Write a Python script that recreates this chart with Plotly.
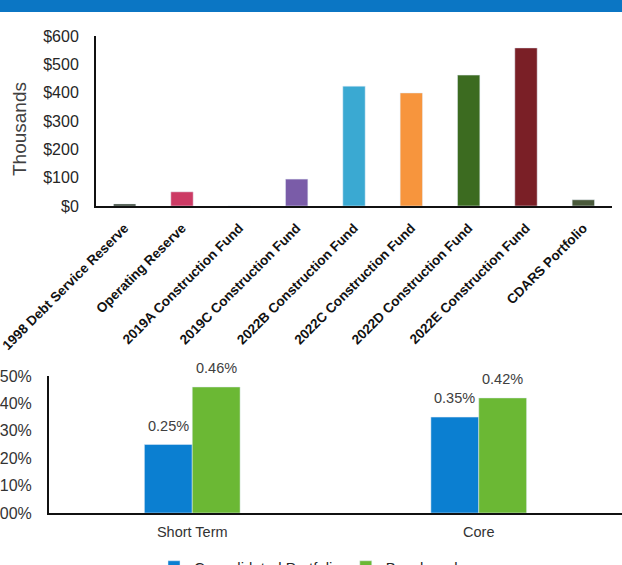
import plotly.graph_objects as go

W, H = 622, 565

# Upper panel: fund balances, in thousands of dollars
funds = [
    "1998 Debt Service Reserve",
    "Operating Reserve",
    "2019A Construction Fund",
    "2019C Construction Fund",
    "2022B Construction Fund",
    "2022C Construction Fund",
    "2022D Construction Fund",
    "2022E Construction Fund",
    "CDARS Portfolio",
]
balances = [7, 50, 0, 95, 423, 399, 462, 558, 22]
fund_colors = ["#2f3b2c", "#cc3a64", "#8a8a8a", "#7a5ca8", "#3aa9d2",
               "#f7953d", "#3c6b20", "#7a1f26", "#4a5a3b"]
balance_ticks = [0, 100, 200, 300, 400, 500, 600]

# Lower panel: yields by strategy
strategies = ["Short Term", "Core"]
portfolio_yield = [0.25, 0.35]
benchmark_yield = [0.46, 0.42]
yield_ticks = [0.0, 0.1, 0.2, 0.3, 0.4, 0.5]

FONT = "Liberation Sans, Arial, sans-serif"
BAR_W = 0.167


def px_x(p):
    return p / W


def px_y(p):
    return (H - p) / H


fig = go.Figure()

fig.add_trace(go.Bar(
    x=funds, y=balances, marker_color=fund_colors, width=0.39,
    showlegend=False, xaxis="x", yaxis="y",
))

fig.add_trace(go.Bar(
    x=[0, 1], y=portfolio_yield, name="Consolidated Portfolio",
    marker_color="#0b7fd1", width=BAR_W, offset=-BAR_W,
    xaxis="x2", yaxis="y2",
))
fig.add_trace(go.Bar(
    x=[0, 1], y=benchmark_yield, name="Benchmark",
    marker_color="#6bb834", width=BAR_W, offset=0,
    xaxis="x2", yaxis="y2",
))

# value labels above each yield bar
value_labels = []
for series, shift in ((portfolio_yield, -BAR_W / 2), (benchmark_yield, BAR_W / 2)):
    for i, v in enumerate(series):
        value_labels.append(dict(
            x=i + shift, y=v, xref="x2", yref="y2", text=f"{v:.2f}%",
            showarrow=False, xanchor="center", yanchor="bottom", yshift=9,
            font=dict(size=14.5, color="#404040", family=FONT),
        ))

axis_common = dict(showgrid=False, zeroline=False, showline=True,
                   linecolor="#111111", linewidth=2, automargin=False,
                   fixedrange=True)

fig.update_layout(
    width=W, height=H,
    margin=dict(l=0, r=0, t=0, b=0, autoexpand=False),
    paper_bgcolor="white", plot_bgcolor="white",
    barmode="overlay",
    font=dict(family=FONT, color="#262626"),
    xaxis=dict(
        **axis_common, domain=[px_x(96), px_x(612)], anchor="y",
        type="category", range=[-0.5, 8.5], tickangle=-45,
        tickfont=dict(size=13.5, color="#111111", family=FONT, weight="bold"),
        ticklabelstandoff=7,
    ),
    yaxis=dict(
        **axis_common, domain=[px_y(206), px_y(36)], anchor="x",
        range=[0, 600], tickvals=balance_ticks,
        ticktext=[f"${v}" for v in balance_ticks],
        tickfont=dict(size=16, color="#262626", family=FONT),
        ticklabelstandoff=12,
    ),
    xaxis2=dict(
        **axis_common, domain=[px_x(49), 1.0], anchor="y2",
        range=[-0.5, 1.5], tickvals=[0, 1], ticktext=strategies,
        tickfont=dict(size=14.5, color="#333333", family=FONT),
        ticklabelstandoff=5,
    ),
    yaxis2=dict(
        **axis_common, domain=[px_y(513), px_y(376)], anchor="x2",
        range=[0, 0.5], tickvals=yield_ticks,
        ticktext=[f"{v:.2f}%" for v in yield_ticks],
        tickfont=dict(size=16, color="#333333", family=FONT),
        ticklabelstandoff=12,
    ),
    legend=dict(
        orientation="h", x=0.5, xanchor="center", y=px_y(567),
        yanchor="middle", font=dict(size=15, color="#262626", family=FONT),
        itemwidth=30, bgcolor="rgba(0,0,0,0)",
    ),
    shapes=[dict(type="rect", xref="paper", yref="paper", x0=0, x1=1,
                 y0=px_y(12), y1=1, fillcolor="#0b76c4", line_width=0,
                 layer="above")],
    annotations=value_labels + [dict(
        text="Thousands", xref="paper", yref="paper",
        x=px_x(20), y=px_y(129), xanchor="center", yanchor="middle",
        textangle=-90, showarrow=False,
        font=dict(size=19, color="#404040", family=FONT))],
)

fig.write_html("out.html")
